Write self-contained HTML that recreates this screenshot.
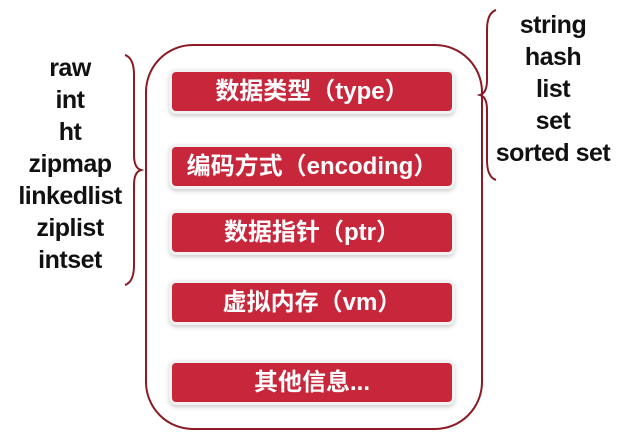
<!DOCTYPE html>
<html><head><meta charset="utf-8"><style>
body{margin:0;width:620px;height:437px;background:#fff;position:relative;overflow:hidden;font-family:"Liberation Sans","Noto Sans CJK SC",sans-serif}
.l{position:absolute;font-weight:bold;font-size:25px;line-height:32px;text-align:center;color:#111;letter-spacing:-0.5px}
.bar{position:absolute;left:172px;width:280px;height:39px;background:#c8263a;border-radius:4px;color:#fff;font-weight:bold;font-size:24px;line-height:39px;text-align:center;box-shadow:0 0 0 3px #f2f2f2,0 2px 4px 3px #ccc}
.box{position:absolute;left:145px;top:44px;width:338px;height:386px;border:2px solid #8b1a24;border-radius:48px;box-sizing:border-box}
</style></head><body>
<div class="l" style="left:0;top:52px;width:140px">raw<br>int<br>ht<br>zipmap<br>linkedlist<br>ziplist<br>intset</div>
<div class="l" style="left:490px;top:9px;width:126px">string<br>hash<br>list<br>set<br>sorted set</div>
<svg width="620" height="437" style="position:absolute;left:0;top:0">
<path d="M125 55 Q134 58 134 75 L134 155 Q134 168 141 170 Q134 172 134 185 L134 265 Q134 282 125 285" fill="none" stroke="#8b1a24" stroke-width="2"/>
<path d="M496 10 Q487 13 487 30 L487 80 Q487 93 480 95 Q487 97 487 110 L487 160 Q487 177 496 180" fill="none" stroke="#8b1a24" stroke-width="2"/>
</svg>
<div class="box"></div>
<div class="bar" style="top:72px">数据类型（type）</div>
<div class="bar" style="top:147px">编码方式（encoding）</div>
<div class="bar" style="top:213px">数据指针（ptr）</div>
<div class="bar" style="top:283px">虚拟内存（vm）</div>
<div class="bar" style="top:363px">其他信息...</div>
</body></html>
